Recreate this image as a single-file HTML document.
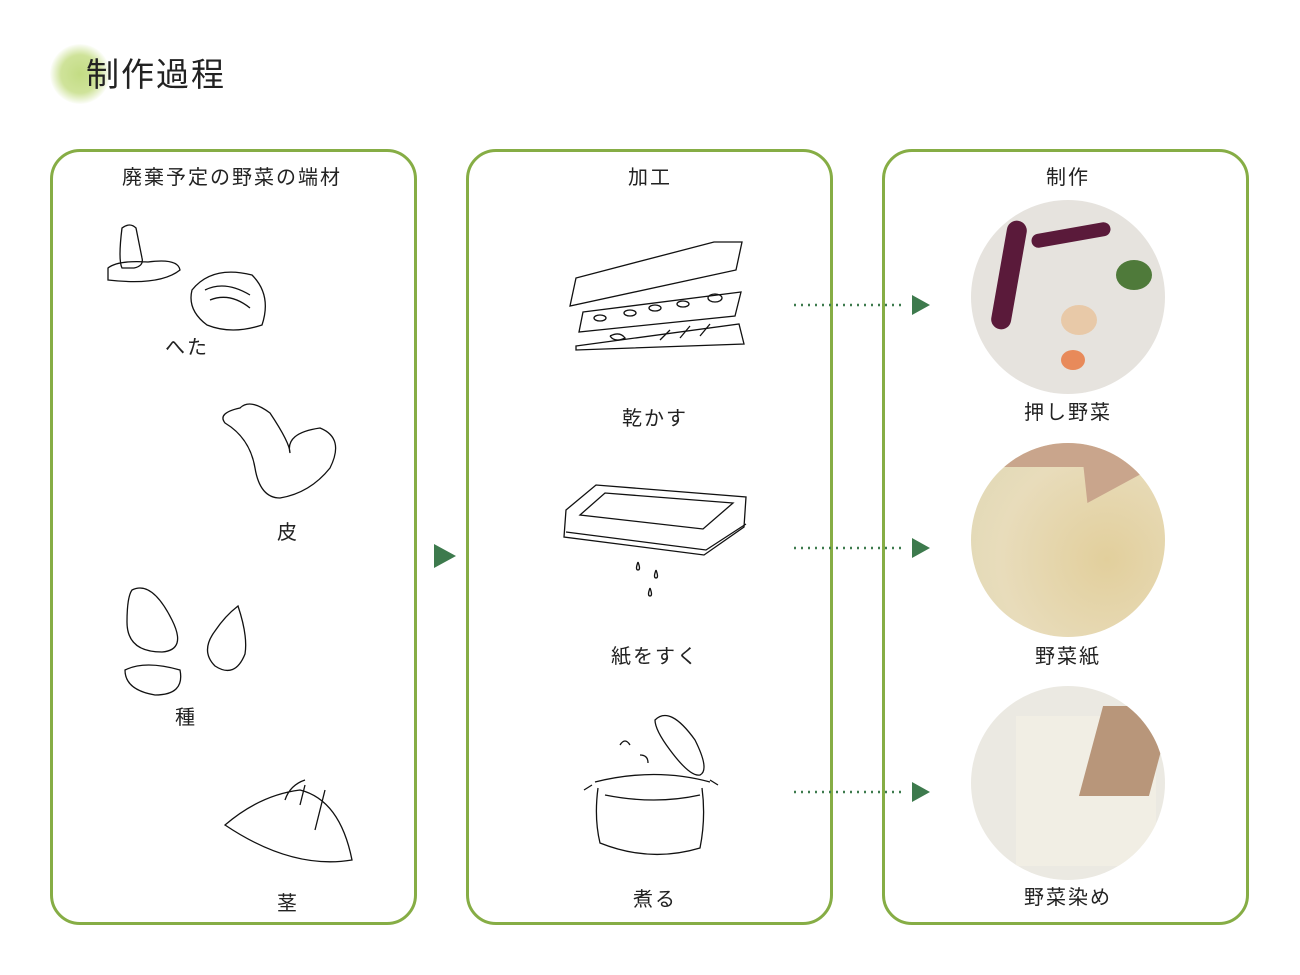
<!DOCTYPE html>
<html><head><meta charset="utf-8"><style>
html,body{margin:0;padding:0;background:#fff}
body{width:1300px;height:975px;position:relative;overflow:hidden;font-family:"Liberation Sans","Noto Sans CJK JP",sans-serif;color:#222}
.panel{position:absolute;top:149px;width:367px;height:776px;border:3px solid #86ad45;border-radius:30px;box-sizing:border-box}
.t{position:absolute;font-size:20px;white-space:nowrap;transform:translateX(-50%);letter-spacing:2px}
.circ{position:absolute;width:194px;height:194px;border-radius:50%;overflow:hidden}
</style></head><body>
<div style="position:absolute;left:50px;top:44px;width:60px;height:60px;border-radius:50%;background:radial-gradient(circle,#c3dc84 0%,#cfe39a 45%,rgba(220,235,180,0) 72%)"></div>
<div style="position:absolute;left:86px;top:48px;font-size:33px;letter-spacing:2px">制作過程</div>

<div class="panel" style="left:50px"></div>
<div class="panel" style="left:466px"></div>
<div class="panel" style="left:882px"></div>

<div class="t" style="left:232px;top:161px">廃棄予定の野菜の端材</div>
<div class="t" style="left:650px;top:161px">加工</div>
<div class="t" style="left:1068px;top:161px">制作</div>

<div class="t" style="left:187px;top:331px">へた</div>
<div class="t" style="left:288px;top:516px">皮</div>
<div class="t" style="left:186px;top:701px">種</div>
<div class="t" style="left:288px;top:887px">茎</div>
<div class="t" style="left:655px;top:402px">乾かす</div>
<div class="t" style="left:655px;top:640px">紙をすく</div>
<div class="t" style="left:655px;top:883px">煮る</div>
<div class="t" style="left:1068px;top:396px">押し野菜</div>
<div class="t" style="left:1068px;top:640px">野菜紙</div>
<div class="t" style="left:1068px;top:881px">野菜染め</div>

<svg width="1300" height="975" style="position:absolute;left:0;top:0" fill="none" stroke="#111" stroke-width="1.3">
<path d="M122 228 q8-6 14 0 l6 30 q2 8-8 10 l-12 0 q-4-8 0-40z M108 268 q10-8 40-6 q30-4 32 8 q-20 16-72 10z"/>
<path d="M192 290 q20-25 60-15 q20 20 10 50 q-30 10-55 0 q-20-15-15-35z M205 290 q20-10 45 5 M210 300 q20-8 40 8"/>
<path d="M240 408 q10-10 30 5 q20 30 20 40 q-5-20 30-25 q25 10 10 40 q-20 25-50 30 q-20 0-25-30 q-5-30-30-45 q-8-10 15-15z"/>
<path d="M132 590 q20-10 40 30 q15 30-10 32 q-35 0-35-30 q0-25 5-32z M238 606 q10 30 7 48 q-10 25-30 12 q-15-15 0-35 q10-15 23-25z M125 670 q20-10 55 0 q5 25-25 25 q-30-5-30-25z"/>
<path d="M225 825 q35-30 75-35 q40 10 52 70 q-60 10-127-35z M285 800 q5-15 20-20 M300 805 l5-20 M315 830 l10-40"/>
<path d="M570 306 l6-28 l138-36 l28 0 l-6 28z M583 312 l158-20 l-6 24 l-156 16z M576 346 l163-22 l5 20 l-168 6z"/>
<ellipse cx="600" cy="318" rx="6" ry="3"/><ellipse cx="630" cy="313" rx="6" ry="3"/><ellipse cx="655" cy="308" rx="6" ry="3"/><ellipse cx="683" cy="304" rx="6" ry="3"/><ellipse cx="715" cy="298" rx="7" ry="4"/>
<path d="M610 336 q10-5 15 2 q-10 5-15-2 M660 340 l10-10 M680 338 l10-12 M700 336 l10-12"/>
<path d="M566 510 l30-25 l150 12 l-2 30 l-40 28 l-140-18z M580 515 l25-22 l128 10 l-30 26z M566 532 l140 18 l40-26"/>
<path d="M638 562 q3 8 0 8 q-3 0 0-8 M656 570 q3 8 0 8 q-3 0 0-8 M650 588 q3 8 0 8 q-3 0 0-8"/>
<path d="M595 782 q60-15 115 0 M598 788 q-4 30 2 55 q50 20 100 5 q6-30 2-60 M592 785 l-8 5 M710 780 l8 5 M605 795 q50 10 95 0"/>
<path d="M655 720 q15-15 40 20 q15 30 5 35 q-10 2-30-25 q-15-20-15-30z M620 745 q5-8 10 0 M640 755 q8 0 8 8"/>
<g stroke="#3d7a4d" stroke-width="2.5" stroke-dasharray="2 5"><path d="M794 305h112M794 548h112M794 792h112"/></g>
</svg>
<svg width="1300" height="975" style="position:absolute;left:0;top:0">
<g fill="#3d7a4d"><path d="M912 295l18 10-18 10z M912 538l18 10-18 10z M912 782l18 10-18 10z M434 544l22 12-22 12z"/></g>
</svg>

<div class="circ" style="left:971px;top:200px;background:#e6e3de">
<div style="position:absolute;left:28px;top:20px;width:20px;height:110px;background:#5a1a3a;border-radius:10px;transform:rotate(10deg)"></div>
<div style="position:absolute;left:60px;top:28px;width:80px;height:14px;background:#5a1a3a;border-radius:8px;transform:rotate(-10deg)"></div>
<div style="position:absolute;left:145px;top:60px;width:36px;height:30px;background:#4f7a3a;border-radius:50%"></div>
<div style="position:absolute;left:90px;top:105px;width:36px;height:30px;background:#e8c9a8;border-radius:50%"></div>
<div style="position:absolute;left:90px;top:150px;width:24px;height:20px;background:#e88a5a;border-radius:50%"></div>
</div>
<div class="circ" style="left:971px;top:443px;background:radial-gradient(circle at 70% 60%,#e2cf9c,#e8dcbb 60%,#ded8b4)">
<div style="position:absolute;left:0;top:0;width:194px;height:60px;background:#c9a58c;clip-path:polygon(0 0,100% 0,100% 30%,60% 100%,58% 40%,0 40%)"></div>
</div>
<div class="circ" style="left:971px;top:686px;background:#ebe9e2">
<div style="position:absolute;left:45px;top:30px;width:140px;height:150px;background:#f1eee4"></div>
<div style="position:absolute;left:120px;top:20px;width:70px;height:90px;background:#b8967a;transform:skew(-15deg)"></div>
</div>
</body></html>
